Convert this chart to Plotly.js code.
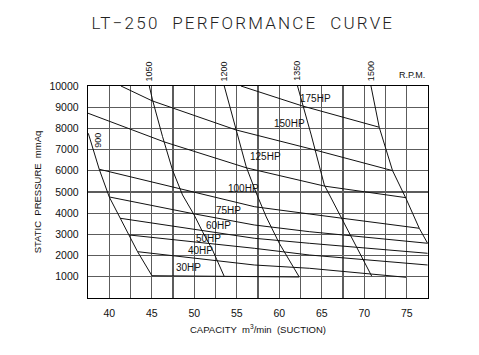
<!DOCTYPE html>
<html>
<head>
<meta charset="utf-8">
<script src="https://cdn.plot.ly/plotly-3.0.1.min.js"></script>
<style>
html,body{margin:0;padding:0;background:#fff;}
#chart{width:479px;height:355px;}
.gtitle{letter-spacing:2.2px;}
</style>
</head>
<body>
<div id="chart"></div>
<script>
// ---- Data (capacity m3/min, static pressure mmAq) ----
const rpmNames = ['900', '1050', '1200', '1350', '1500'];
const rpm900Q  = [37.53, 38.82, 40.0, 41.29, 42.35, 43.33, 45.02];
const rpm900P  = [7772, 6073, 4766, 3761, 2973, 2185, 1052];
const rpm1050Q = [44.71, 45.09, 46.27, 47.44, 48.62, 49.99, 50.97, 52.15, 53.53];
const rpm1050P = [10000, 9344, 7612, 6040, 4861, 3917, 3129, 2265, 1015];
const rpm1200Q = [53.53, 54.91, 56.12, 57.24, 58.47, 60.0, 62.35];
const rpm1200P = [10000, 7928, 6182, 5002, 3823, 2581, 991];
const rpm1350Q = [62.15, 63.76, 65.3, 67.2, 69.88, 70.88];
const rpm1350P = [10000, 7692, 5332, 3870, 1746, 1029];
const rpm1500Q = [70.79, 71.76, 73.33, 74.91, 76.47, 77.45];
const rpm1500P = [10000, 8055, 6007, 4695, 3289, 2581];

const hpNames = ['175HP', '150HP', '125HP', '100HP', '75HP', '60HP', '50HP', '40HP', '30HP'];
const hp175Q = [55.49, 62.71, 71.76];
const hp175P = [10000, 9060, 8055];
const hp150Q = [41.38, 45.06, 54.91, 64.18, 73.33];
const hp150P = [10000, 9297, 7928, 6984, 6007];
const hp125Q = [37.5, 46.47, 56.18, 65.35, 74.91];
const hp125P = [8716, 7362, 6135, 5276, 4733];
const hp100Q = [38.82, 57.06, 63.53, 67.45, 76.47];
const hp100P = [6073, 4308, 3964, 3761, 3289];
const hp75Q  = [40.0, 49.61, 57.06, 63.53, 77.45];
const hp75P  = [4766, 3997, 3445, 3129, 2581];
const hp60Q  = [41.29, 57.06, 63.53, 77.45];
const hp60P  = [3761, 2817, 2581, 2109];
const hp50Q  = [42.35, 57.06, 63.53, 77.45];
const hp50P  = [2973, 2345, 2029, 1557];
const hp40Q  = [43.33, 57.06, 63.53, 74.91];
const hp40P  = [2185, 1557, 1402, 977];
const hp30Q  = [45.02, 53.53, 62.35];
const hp30P  = [1052, 1015, 991];

const xTicks = [40, 45, 50, 55, 60, 65, 70, 75];
const yTicks = [1000, 2000, 3000, 4000, 5000, 6000, 7000, 8000, 9000, 10000];

// ---- Build traces ----
const rpmSeries = [[rpm900Q, rpm900P], [rpm1050Q, rpm1050P], [rpm1200Q, rpm1200P], [rpm1350Q, rpm1350P], [rpm1500Q, rpm1500P]];
const hpSeries = [[hp175Q, hp175P], [hp150Q, hp150P], [hp125Q, hp125P], [hp100Q, hp100P], [hp75Q, hp75P], [hp60Q, hp60P], [hp50Q, hp50P], [hp40Q, hp40P], [hp30Q, hp30P]];

const lineStyle = {color: '#111', width: 1};
const traces = [];
rpmSeries.forEach((s, i) => traces.push({x: s[0], y: s[1], name: rpmNames[i] + ' rpm', type: 'scatter', mode: 'lines', line: lineStyle, hoverinfo: 'skip', showlegend: false}));
hpSeries.forEach((s, i) => traces.push({x: s[0], y: s[1], name: hpNames[i], type: 'scatter', mode: 'lines', line: lineStyle, hoverinfo: 'skip', showlegend: false}));

// ---- Annotations ----
const labFont = {family: 'Liberation Sans, Arial, sans-serif', size: 10, color: '#111'};
const rpmFont = {family: 'Liberation Sans, Arial, sans-serif', size: 9, color: '#111'};
const annotations = [];
// RPM labels above the top of each rpm curve (except 900, labelled inside)
rpmSeries.forEach((s, i) => {
  if (i === 0) return;
  annotations.push({x: s[0][0], y: 1.07, xref: 'x', yref: 'paper', text: rpmNames[i], textangle: -90,
    showarrow: false, xanchor: 'center', yanchor: 'middle', font: rpmFont});
});
annotations.push({x: 38.65, y: 7456, xref: 'x', yref: 'y', text: rpmNames[0], textangle: -90,
  showarrow: false, xanchor: 'center', yanchor: 'middle', font: rpmFont});
annotations.push({x: 0.953, y: 1.052, xref: 'paper', yref: 'paper', text: 'R.P.M.', showarrow: false,
  xanchor: 'center', yanchor: 'middle', font: rpmFont});
// HP labels
const hpLabelPos = [[64.32, 9391], [61.18, 8211], [58.44, 6668], [55.79, 5177], [54.02, 4106], [52.85, 3398], [51.67, 2817], [50.68, 2218], [49.32, 1430]];
hpNames.forEach((n, i) => annotations.push({x: hpLabelPos[i][0], y: hpLabelPos[i][1], xref: 'x', yref: 'y', text: n,
  showarrow: false, xanchor: 'center', yanchor: 'middle', font: labFont}));

const gridCol = '#5c5c5c';
const tickFont = {family: 'Liberation Sans, Arial, sans-serif', size: 10.5, color: '#111'};

const layout = {
  width: 479, height: 355,
  margin: {l: 88, r: 51, t: 86, b: 57, pad: 0},
  paper_bgcolor: '#fff', plot_bgcolor: '#fff',
  showlegend: false,
  title: {
    text: 'LT\u2212250\u00a0\u00a0PERFORMANCE\u00a0\u00a0CURVE',
    font: {family: 'Roboto, DejaVu Sans, sans-serif', size: 17, color: '#222', weight: 300},
    xref: 'container', yref: 'container', x: 0.507, y: 0.936, xanchor: 'center', yanchor: 'middle'
  },
  xaxis: {
    range: [37.5, 77.5], tickmode: 'array', tickvals: xTicks, ticktext: xTicks.map(String),
    showgrid: true, gridcolor: gridCol, gridwidth: 1.1,
    minor: {dtick: 2.5, tick0: 0, showgrid: true, gridcolor: gridCol, gridwidth: 1.1},
    zeroline: false, showline: true, mirror: true, linecolor: '#000', linewidth: 1.3,
    ticks: '', ticklabelstandoff: 5, tickfont: tickFont,
    title: {text: 'CAPACITY\u00a0\u00a0m<sup>3</sup>/min\u00a0\u00a0(SUCTION)', standoff: 8,
      font: {family: 'Liberation Sans, Arial, sans-serif', size: 9.5, color: '#111'}}
  },
  yaxis: {
    range: [0, 10000], tickmode: 'array', tickvals: yTicks, ticktext: yTicks.map(String),
    showgrid: true, gridcolor: gridCol, gridwidth: 1.1,
    zeroline: false, showline: true, mirror: true, linecolor: '#000', linewidth: 1.3,
    ticks: '', ticklabelstandoff: 6, tickfont: tickFont,
    title: {text: 'STATIC\u00a0\u00a0PRESSURE\u00a0\u00a0mmAq', standoff: 6,
      font: {family: 'Liberation Sans, Arial, sans-serif', size: 9.5, color: '#111'}}
  },
  annotations: annotations
};

Plotly.newPlot('chart', traces, layout, {staticPlot: true, displayModeBar: false});
</script>
</body>
</html>
